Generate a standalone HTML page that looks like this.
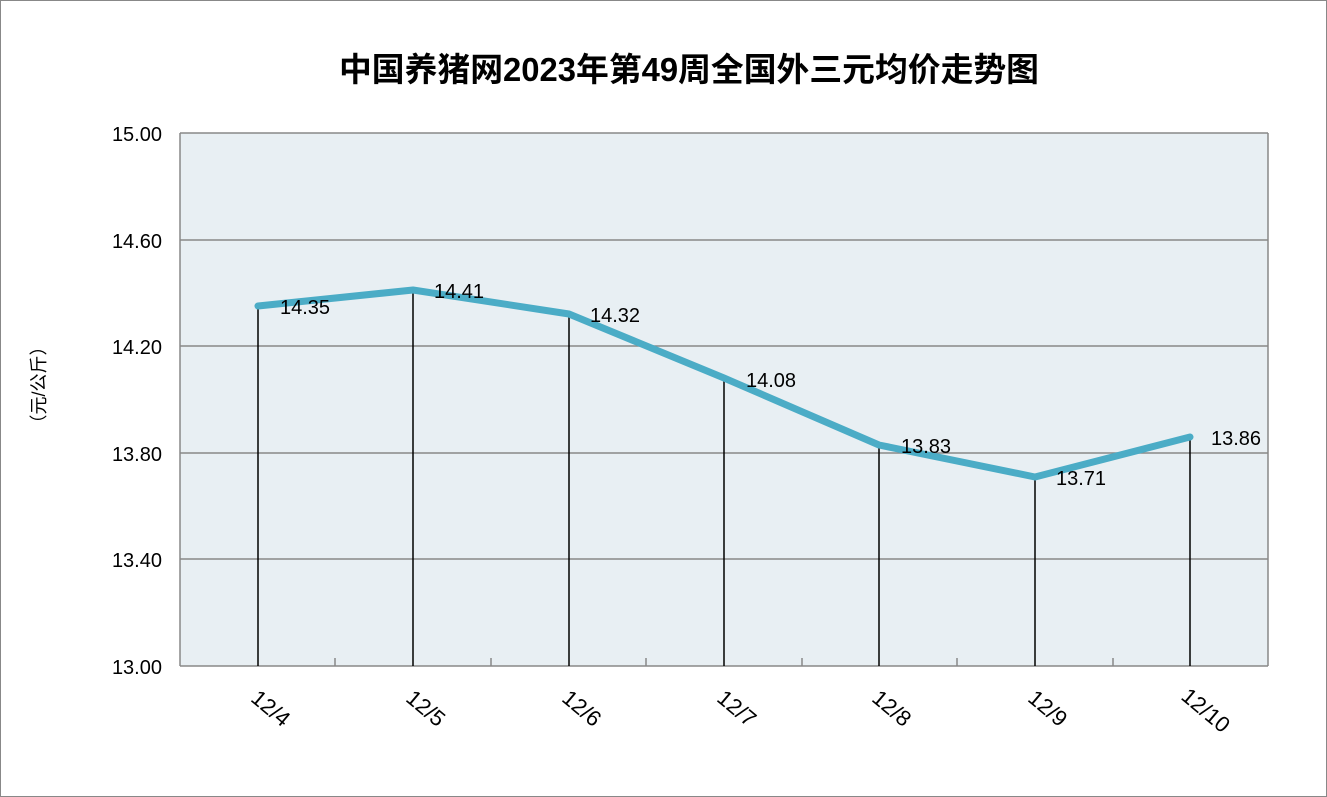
<!DOCTYPE html>
<html><head><meta charset="utf-8"><style>
html,body{margin:0;padding:0;background:#fff}
svg{display:block}
</style></head><body>
<svg width="1327" height="797" xmlns="http://www.w3.org/2000/svg" font-family="'Liberation Sans','Noto Sans CJK SC',sans-serif">
<rect x="0.5" y="0.5" width="1326" height="796" fill="#fff" stroke="#888" stroke-width="1"/>
<text x="689" y="81" text-anchor="middle" font-size="33" font-weight="bold" fill="#000" textLength="700" lengthAdjust="spacingAndGlyphs">中国养猪网2023年第49周全国外三元均价走势图</text>
<rect x="180" y="133" width="1088" height="533" fill="#e8eff3"/>
<g stroke="#888" stroke-width="1.5">
<line x1="180" y1="133" x2="1268" y2="133"/>
<line x1="180" y1="240" x2="1268" y2="240"/>
<line x1="180" y1="346" x2="1268" y2="346"/>
<line x1="180" y1="453" x2="1268" y2="453"/>
<line x1="180" y1="559" x2="1268" y2="559"/>
<line x1="180" y1="133" x2="180" y2="666"/>
<line x1="1268" y1="133" x2="1268" y2="666"/>
<line x1="180" y1="666" x2="1268" y2="666"/>
<line x1="335" y1="658" x2="335" y2="666"/>
<line x1="491" y1="658" x2="491" y2="666"/>
<line x1="646" y1="658" x2="646" y2="666"/>
<line x1="802" y1="658" x2="802" y2="666"/>
<line x1="957" y1="658" x2="957" y2="666"/>
<line x1="1113" y1="658" x2="1113" y2="666"/>
</g>
<g font-size="20" fill="#000" text-anchor="end">
<text x="162" y="141">15.00</text>
<text x="162" y="248">14.60</text>
<text x="162" y="354">14.20</text>
<text x="162" y="461">13.80</text>
<text x="162" y="567">13.40</text>
<text x="162" y="674">13.00</text>
</g>
<text transform="translate(45,385) rotate(-90)" text-anchor="middle" font-size="18" fill="#000">（元/公斤）</text>
<g stroke="#000" stroke-width="1.5">
<line x1="258" y1="306" x2="258" y2="666"/>
<line x1="413" y1="290" x2="413" y2="666"/>
<line x1="569" y1="314" x2="569" y2="666"/>
<line x1="724" y1="378" x2="724" y2="666"/>
<line x1="879" y1="445" x2="879" y2="666"/>
<line x1="1035" y1="477" x2="1035" y2="666"/>
<line x1="1190" y1="437" x2="1190" y2="666"/>
</g>
<polyline points="258,306 413,290 569,314 724,378 879,445 1035,477 1190,437" fill="none" stroke="#4bacc6" stroke-width="7" stroke-linejoin="round" stroke-linecap="round"/>
<g font-size="20" fill="#000">
<text x="280" y="314">14.35</text>
<text x="434" y="298">14.41</text>
<text x="590" y="322">14.32</text>
<text x="746" y="387">14.08</text>
<text x="901" y="453">13.83</text>
<text x="1056" y="485">13.71</text>
<text x="1211" y="445">13.86</text>
</g>
<g font-size="22" fill="#000" text-anchor="middle">
<text transform="translate(266,714) rotate(40)">12/4</text>
<text transform="translate(421,714) rotate(40)">12/5</text>
<text transform="translate(577,714) rotate(40)">12/6</text>
<text transform="translate(732,714) rotate(40)">12/7</text>
<text transform="translate(887,714) rotate(40)">12/8</text>
<text transform="translate(1043,714) rotate(40)">12/9</text>
<text transform="translate(1201,716) rotate(40)">12/10</text>
</g>
</svg>
</body></html>
